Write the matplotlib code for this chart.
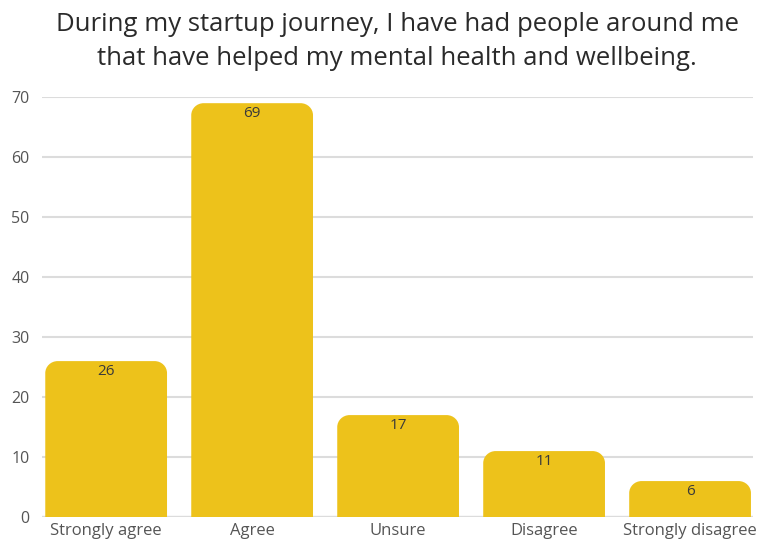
import matplotlib
matplotlib.use("Agg")
import matplotlib.pyplot as plt
from matplotlib.path import Path
from matplotlib.patches import PathPatch

categories = ["Strongly agree", "Agree", "Unsure", "Disagree", "Strongly disagree"]
counts = [26, 69, 17, 11, 6]
title = ("During my startup journey, I have had people around me\n"
         "that have helped my mental health and wellbeing.")

bar_color = "#EDC21B"
plt.rcParams['font.family'] = ['Open Sans', 'DejaVu Sans']


def rounded_top(x0, w, h, rx, ry):
    # bar outline with rounded top corners (elliptical in data units)
    k = 0.5523
    x1 = x0 + w
    verts = [
        (x0, 0), (x0, h - ry),
        (x0, h - ry + k * ry), (x0 + rx - k * rx, h), (x0 + rx, h),
        (x1 - rx, h),
        (x1 - rx + k * rx, h), (x1, h - ry + k * ry), (x1, h - ry),
        (x1, 0), (x0, 0),
    ]
    codes = [Path.MOVETO, Path.LINETO,
             Path.CURVE4, Path.CURVE4, Path.CURVE4,
             Path.LINETO,
             Path.CURVE4, Path.CURVE4, Path.CURVE4,
             Path.LINETO, Path.CLOSEPOLY]
    return Path(verts, codes)


fig = plt.figure(figsize=(7.62, 5.46), dpi=100)
ax = fig.add_axes([0.055, 0.053, 0.933, 0.769])

x = range(len(categories))
bars = ax.bar(x, counts, width=0.834, color=bar_color, zorder=2)
ax.set_xlim(-0.44, 4.43)
ax.set_ylim(0, 70)

# swap plain rectangles for rounded-top ones
rx, ry = 0.085, 2.0
for b in bars:
    b.set_visible(False)
    p = rounded_top(b.get_x(), b.get_width(), b.get_height(), rx, ry)
    ax.add_patch(PathPatch(p, facecolor=bar_color, edgecolor='none', zorder=2))

for i, v in enumerate(counts):
    ax.annotate(str(v), xy=(i, v), xytext=(0, -2), textcoords='offset points',
                ha='center', va='top', fontsize=11, color='#3a3a3a', zorder=3)

ax.set_yticks(range(0, 71, 10))
ax.grid(axis='y', color='#dcdcdc', linewidth=1.5, zorder=0)
ax.axhline(0, color='#9a9a9a', linewidth=1.5, zorder=1)
for s in ax.spines.values():
    s.set_visible(False)
ax.tick_params(axis='y', length=0, pad=9, labelsize=11.5, labelcolor='#555555')
ax.tick_params(axis='x', length=0, pad=4, labelsize=12, labelcolor='#555555')
ax.set_xticks(list(x))
ax.set_xticklabels(categories)

fig.text(0.521, 0.924, title, ha='center', va='center', fontsize=18.5,
         color='#2a2a2a', linespacing=1.5)

fig.savefig("out.png", dpi=100)
